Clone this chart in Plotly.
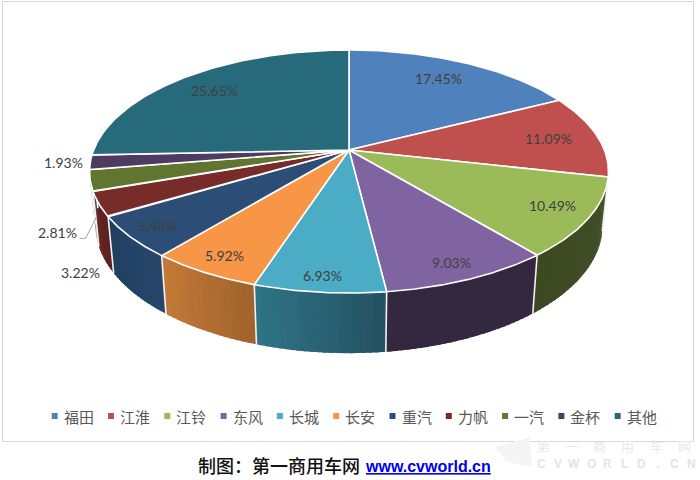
import numpy as np
import plotly.graph_objects as go

categories = ["福田", "江淮", "江铃", "东风", "长城", "长安", "重汽", "力帆", "一汽", "金杯", "其他"]
shares = [17.45, 11.09, 10.49, 9.03, 6.93, 5.92, 5.48, 3.22, 2.81, 1.93, 25.65]
labels = ["17.45%", "11.09%", "10.49%", "9.03%", "6.93%", "5.92%", "5.48%", "3.22%", "2.81%", "1.93%", "25.65%"]
watermark_cn = ["第", "一", "商", "用", "车", "网"]
watermark_en = list("CVWORLD.CN")

top_colors = ["#4F81BD", "#C0504D", "#9BBB59", "#8064A2", "#4BACC6", "#F79646",
              "#2C4D75", "#772C2A", "#5F7530", "#4D3B62", "#276A7C"]
wall_left = ["#4F81BD", "#C0504D", "#3C4921", "#33283F", "#2E7587", "#C47A38",
             "#1F3F60", "#6A2726", "#A8A88A", "#4D3B62", "#276A7C"]
wall_right = ["#4F81BD", "#C0504D", "#42502A", "#33283F", "#245062", "#A0632C",
              "#27486C", "#5A2120", "#A8A88A", "#4D3B62", "#276A7C"]

label_r = [0.75, 0.80, 0.86, 0.87, 0.90, 0.88, 0.89, 1.07, 1.12, 1.10, 0.80]
label_dy = [-4, 0, -2, 3, 0, 0, -1, 64, 48, -1, 0]

CX, CY, A, B, K = 349.0, 150.0, 255.4, 117.7, 0.177
SX, SY, LOWER_CY = 0.977, 1.05, 203.0


def project(theta, r=1.0):
    u, v = r * np.sin(theta), -r * np.cos(theta)
    w = 1 - K * v
    return A * u / w, B * v / w


def upper(theta, r=1.0):
    x, y = project(theta, r)
    return CX + x, CY + y


def lower(theta):
    x, y = project(theta)
    return CX + SX * x, LOWER_CY + SY * y


def mix(c1, c2, t):
    a = [int(c1[i:i + 2], 16) for i in (1, 3, 5)]
    b = [int(c2[i:i + 2], 16) for i in (1, 3, 5)]
    return "#%02X%02X%02X" % tuple(round(p + (q - p) * t) for p, q in zip(a, b))


edges = np.radians(np.concatenate([[0], np.cumsum(shares)]) * 3.6)
fig = go.Figure()


def poly(xs, ys, fill, line=None, width=0.0):
    fig.add_trace(go.Scatter(x=xs, y=ys, mode="lines", fill="toself", fillcolor=fill,
                             line=dict(color=line or fill, width=width),
                             hoverinfo="skip", showlegend=False))


# side walls, visible only on the front half; strips overlap so no seams show
WALL_START, WALL_END = np.radians(100), np.radians(272)
for i in range(len(shares)):
    t0, t1 = max(edges[i], WALL_START), min(edges[i + 1], WALL_END)
    if t1 <= t0:
        continue
    n = max(1, int((t1 - t0) / np.radians(1.2)))
    steps = np.linspace(t0, t1, n + 1)
    for j in range(n):
        ts = np.linspace(steps[j], t1 if j == n - 1 else steps[j + 1] + np.radians(0.8), 5)
        ux, uy = upper(ts)
        lx, ly = lower(ts[::-1])
        c = mix(wall_left[i], wall_right[i], 1 - (j + 0.5) / n)
        poly(np.r_[ux, lx, ux[0]], np.r_[uy, ly, uy[0]], c)
for t in edges:
    if WALL_START < t < WALL_END:
        ux, uy = upper(t)
        lx, ly = lower(t)
        fig.add_trace(go.Scatter(x=[ux, lx], y=[uy, ly], mode="lines",
                                 line=dict(color="#F2F2F2", width=1.6),
                                 hoverinfo="skip", showlegend=False))

# top face
for i in range(len(shares)):
    ts = np.linspace(edges[i], edges[i + 1], 80)
    ux, uy = upper(ts)
    poly(np.r_[CX, ux, CX], np.r_[CY, uy, CY], top_colors[i], line="#FFFFFF", width=1.6)

# data labels
for i, txt in enumerate(labels):
    mid = (edges[i] + edges[i + 1]) / 2
    x, y = upper(mid, label_r[i])
    fig.add_annotation(x=x, y=y + label_dy[i], text=txt, showarrow=False,
                       font=dict(family="Lato", size=14, color="#404040"))

# leader line of the 2.81% label
mid = (edges[8] + edges[9]) / 2
lx0, ly0 = upper(mid, label_r[8])
ly0 += label_dy[8]
wx, wy = lower(mid)
fig.add_trace(go.Scatter(x=[lx0 + 22, lx0 + 28, wx + 1], y=[ly0 + 6, ly0 + 6, (wy + upper(mid)[1]) / 2 + 8],
                         mode="lines", line=dict(color="#A6A6A6", width=1),
                         hoverinfo="skip", showlegend=False))

# legend
LEG_X0, LEG_STEP, LEG_Y = 54.7, 56.3, 416
leg_x = LEG_X0 + LEG_STEP * np.arange(len(categories))
fig.add_trace(go.Scatter(x=leg_x, y=[LEG_Y] * len(categories), mode="markers",
                         marker=dict(symbol="square", size=6, color=top_colors, line=dict(width=0)),
                         hoverinfo="skip", showlegend=False))
for x, name in zip(leg_x, categories):
    fig.add_annotation(x=x + 7, y=LEG_Y, text=name, showarrow=False, xanchor="left",
                       font=dict(family="Noto Sans CJK SC", size=15, color="#595959"))

# footer
fig.add_annotation(x=196, y=465, text="制图：第一商用车网", showarrow=False, xanchor="left",
                   font=dict(family="Noto Sans CJK SC", size=18, color="#111111", weight=500))
fig.add_annotation(x=363, y=466, text="<b><u>www.cvworld.cn</u></b>", showarrow=False, xanchor="left",
                   font=dict(family="Liberation Sans", size=16, color="#0000EE"))

# watermark
for i, ch in enumerate(watermark_cn):
    fig.add_annotation(x=543 + 28.3 * i, y=445, text=ch, showarrow=False,
                       font=dict(family="Noto Sans CJK SC", size=13, color="#E9E9E9"))
for i, ch in enumerate(watermark_en):
    fig.add_annotation(x=541 + 16.7 * i, y=464, text="<b>" + ch + "</b>", showarrow=False,
                       font=dict(family="Liberation Sans", size=12, color="#E4E4E4"))

fig.update_layout(
    width=700, height=480, margin=dict(l=0, r=0, t=0, b=0), showlegend=False,
    paper_bgcolor="#FFFFFF", plot_bgcolor="#FFFFFF",
    xaxis=dict(range=[0, 700], visible=False, fixedrange=True),
    yaxis=dict(range=[480, 0], visible=False, fixedrange=True),
    shapes=[
        dict(type="rect", x0=2.5, y0=1.5, x1=693.5, y1=441.5,
             line=dict(color="#D9D9D9", width=1), layer="below"),
        dict(type="path", path="M 495 447 L 530 437 L 532 467 L 507 462 Z",
             fillcolor="#F5F5F5", line=dict(width=0), layer="below"),
    ],
)
fig.write_html("out.html", post_script="document.body.style.margin='0';",
               config=dict(displayModeBar=False))
